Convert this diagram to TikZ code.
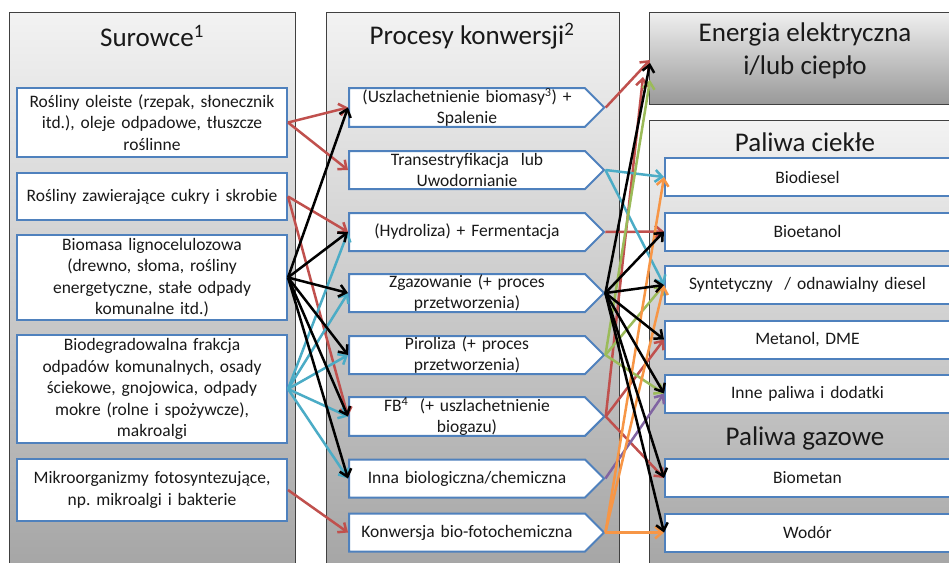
\documentclass[tikz,border=0pt]{standalone}
\usepackage{fontspec}
\setmainfont{Carlito}
\usepackage{tikz}
\usetikzlibrary{arrows.meta}
\usetikzlibrary{shapes.symbols}
\frenchspacing

\definecolor{boxblue}{HTML}{4F81BD}
\definecolor{ored}{HTML}{C0504D}
\definecolor{ocyan}{HTML}{4BACC6}
\definecolor{ogreen}{HTML}{9BBB59}
\definecolor{oorange}{HTML}{F79646}
\definecolor{opurple}{HTML}{8064A2}

\tikzset{
    panel/.style={draw=black!75, line width=1pt, top color=black!5, bottom color=black!36},
    paneltitle/.style={font=\fontsize{27}{33}\selectfont, align=center, text=black!90},
    srcbox/.style={draw=boxblue, line width=2pt, fill=white, align=center, text width=262pt,
        inner xsep=4pt, inner ysep=0pt, text=black!90, font=\fontsize{17.5}{21.5}\selectfont},
    procbox/.style={shape=signal, signal to=east, signal pointer angle=90, draw=boxblue,
        line width=2pt, fill=white, align=center, text width=230pt, inner xsep=3pt,
        inner ysep=0pt, minimum height=38pt, anchor=west, text=black!90,
        font=\fontsize{17.5}{21.5}\selectfont},
    outbox/.style={draw=boxblue, line width=2pt, fill=white, align=center, text width=277pt,
        inner xsep=4pt, inner ysep=0pt, minimum height=38pt, text=black!90,
        font=\fontsize{17.5}{21.5}\selectfont},
    link/.style={line width=2.5pt, -{Straight Barb[length=7pt,width=12pt]}},
}

\begin{document}
\begin{tikzpicture}[x=1pt, y=-1pt]
    \useasboundingbox (0,0) rectangle (949,562);
    \clip (0,0) rectangle (949,562);
    \fill[white] (0,0) rectangle (949,562);

    % panels
    \draw[panel] (9,12) rectangle (295,585);
    \draw[panel] (326,12) rectangle (619,585);
    \draw[panel, top color=black!6, bottom color=black!40] (649,12) rectangle (965,104);
    \draw[panel] (649,120) rectangle (965,585);

    \node[paneltitle] (tsur) at (152,36) {Surowce\textsuperscript{1}};
    \node[paneltitle] (tproc) at (472,36) {Procesy konwersji\textsuperscript{2}};
    \node[paneltitle] (energia) at (805,51) {Energia elektryczna\\i/lub ciepło};
    \node[paneltitle] (tciek) at (805,142) {Paliwa ciekłe};
    \node[paneltitle] (tgaz) at (805,438) {Paliwa gazowe};

    % surowce
    \node[srcbox, minimum height=69pt] (b1) at (152,122.5) {Rośliny oleiste (rzepak, słonecznik\\itd.), oleje odpadowe, tłuszcze\\roślinne};
    \node[srcbox, minimum height=47pt] (b2) at (152,196.5) {Rośliny zawierające cukry i skrobie};
    \node[srcbox, minimum height=85pt] (b3) at (152,277.5) {Biomasa lignocelulozowa\\(drewno, słoma, rośliny\\energetyczne, stałe odpady\\komunalne itd.)};
    \node[srcbox, minimum height=108pt] (b4) at (152,389) {Biodegradowalna frakcja\\odpadów komunalnych, osady\\ściekowe, gnojowica, odpady\\mokre (rolne i spożywcze),\\makroalgi};
    \node[srcbox, minimum height=62pt] (b5) at (152,490) {Mikroorganizmy fotosyntezujące,\\np. mikroalgi i bakterie};

    % procesy
    \node[procbox] (p1) at (348,107.5) {(Uszlachetnienie biomasy\textsuperscript{3}) +\\Spalenie};
    \node[procbox] (p2) at (348,170) {Transestryfikacja\ \ lub\\Uwodornianie};
    \node[procbox] (p3) at (348,232) {(Hydroliza) + Fermentacja};
    \node[procbox] (p4) at (348,293) {Zgazowanie (+ proces\\przetworzenia)};
    \node[procbox] (p5) at (348,355) {Piroliza (+ proces\\przetworzenia)};
    \node[procbox] (p6) at (348,416.5) {FB\textsuperscript{4}\ \ (+ uszlachetnienie\\biogazu)};
    \node[procbox] (p7) at (348,478.5) {Inna biologiczna/chemiczna};
    \node[procbox] (p8) at (348,532.5) {Konwersja bio-fotochemiczna};

    % paliwa
    \node[outbox] (biod) at (807.5,177) {Biodiesel};
    \node[outbox] (bioet) at (807.5,231.5) {Bioetanol};
    \node[outbox] (synt) at (807.5,285) {Syntetyczny\ \ / odnawialny diesel};
    \node[outbox] (metan) at (807.5,339.5) {Metanol, DME};
    \node[outbox] (inne) at (807.5,393.5) {Inne paliwa i dodatki};
    \node[outbox] (biomet) at (807.5,478) {Biometan};
    \node[outbox] (wodor) at (807.5,532.5) {Wodór};

    \coordinate (e1) at (650,60);
    \coordinate (e2) at (650,63);
    \coordinate (e3) at (643,77);
    \coordinate (e4) at (650,80);

    % surowce -> procesy
    \draw[link, ored] (b1.east) -- (p1.west);
    \draw[link, ored] (b1.east) -- (p2.west);
    \draw[link, ored] (b2.east) -- (p3.west);
    \draw[link, ored] (b2.east) -- (p6.west);
    \draw[link, ored] (b5.east) -- (p8.west);
    \foreach \t in {p3,p4,p5,p6,p7}
        \draw[link, ocyan] (b4.east) -- (\t.west);
    \foreach \t in {p1,p3,p4,p5,p6,p7}
        \draw[link] (b3.east) -- (\t.west);

    % procesy -> produkty
    \draw[link, ored] (p1.east) -- (e1);
    \draw[link, ored] (p3.east) -- (bioet.west);
    \foreach \t in {e3,metan.west,biomet.west}
        \draw[link, ored] (p6.east) -- (\t);
    \foreach \t in {biod.west,synt.west}
        \draw[link, ocyan] (p2.east) -- (\t);
    \foreach \t in {e4,synt.west,inne.west}
        \draw[link, ogreen] (p5.east) -- (\t);
    \draw[link, opurple] (p7.east) -- (inne.west);
    \foreach \t in {biod.west,synt.west,wodor.west}
        \draw[link, oorange] (p8.east) -- (\t);
    \foreach \t in {e2,bioet.west,synt.west,metan.west,inne.west,biomet.west,wodor.west}
        \draw[link] (p4.east) -- (\t);
\end{tikzpicture}
\end{document}
